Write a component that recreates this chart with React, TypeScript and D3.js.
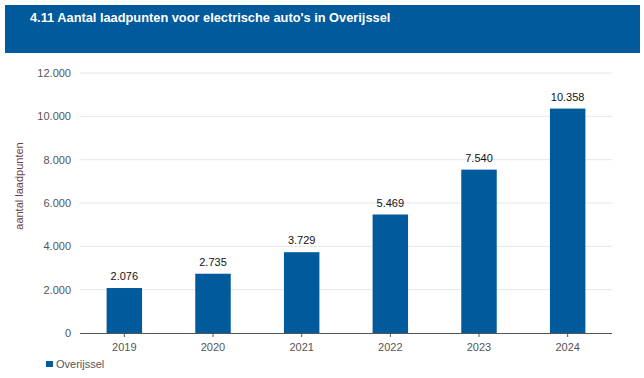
import React from "react";
import * as d3 from "d3";

const years = ["2019", "2020", "2021", "2022", "2023", "2024"];
const values = [2076, 2735, 3729, 5469, 7540, 10358];
const yTicks = [0, 2000, 4000, 6000, 8000, 10000, 12000];
const title = "4.11 Aantal laadpunten voor electrische auto's in Overijssel";
const seriesName = "Overijssel";
const yTitle = "aantal laadpunten";

const fmt = (v: number) => d3.format(",")(v).replace(/,/g, ".");

export default function App() {
  const W = 644, H = 378;
  const x = d3.scaleBand<string>().domain(years).range([80, 612]).paddingInner(0.6).paddingOuter(0.3);
  const y = d3.scaleLinear().domain([0, 12000]).range([333, 73]);
  const blue = "#005a9b";
  const font = "Arial, 'Liberation Sans', sans-serif";
  return (
    <svg width={W} height={H} style={{ position: "absolute", left: 0, top: 0, fontFamily: font }}>
      <rect x={0} y={0} width={W} height={H} fill="#fff" />
      <rect x={5} y={5} width={635} height={48} fill={blue} />
      <text x={30} y={22} fill="#fff" fontSize={12.8} fontWeight="bold">{title}</text>
      {yTicks.map((t) => (
        <g key={t}>
          {t > 0 && <line x1={80} x2={612} y1={y(t)} y2={y(t)} stroke="#e6e6e6" strokeWidth={1} />}
          <text x={71} y={y(t) + 4} textAnchor="end" fontSize={11} fill="#555">{fmt(t)}</text>
        </g>
      ))}
      <text transform={`translate(23,186) rotate(-90)`} textAnchor="middle" fontSize={11} fill="#6e3d45">{yTitle}</text>
      {years.map((yr, i) => {
        const bx = x(yr)!;
        const bw = x.bandwidth();
        return (
          <g key={yr}>
            <rect x={bx} y={y(values[i])} width={bw} height={y(0) - y(values[i])} fill={blue} />
            <text x={bx + bw / 2} y={y(values[i]) - 8} textAnchor="middle" fontSize={11} fill="#111">{fmt(values[i])}</text>
            <line x1={bx + bw / 2} x2={bx + bw / 2} y1={333} y2={337} stroke="#555" />
            <text x={bx + bw / 2} y={351} textAnchor="middle" fontSize={11} fill="#555">{yr}</text>
          </g>
        );
      })}
      <line x1={80} x2={612} y1={333.5} y2={333.5} stroke="#555" strokeWidth={1} />
      <rect x={46} y={361} width={7} height={6} fill={blue} />
      <text x={56} y={368} fontSize={11} fill="#555">{seriesName}</text>
    </svg>
  );
}
